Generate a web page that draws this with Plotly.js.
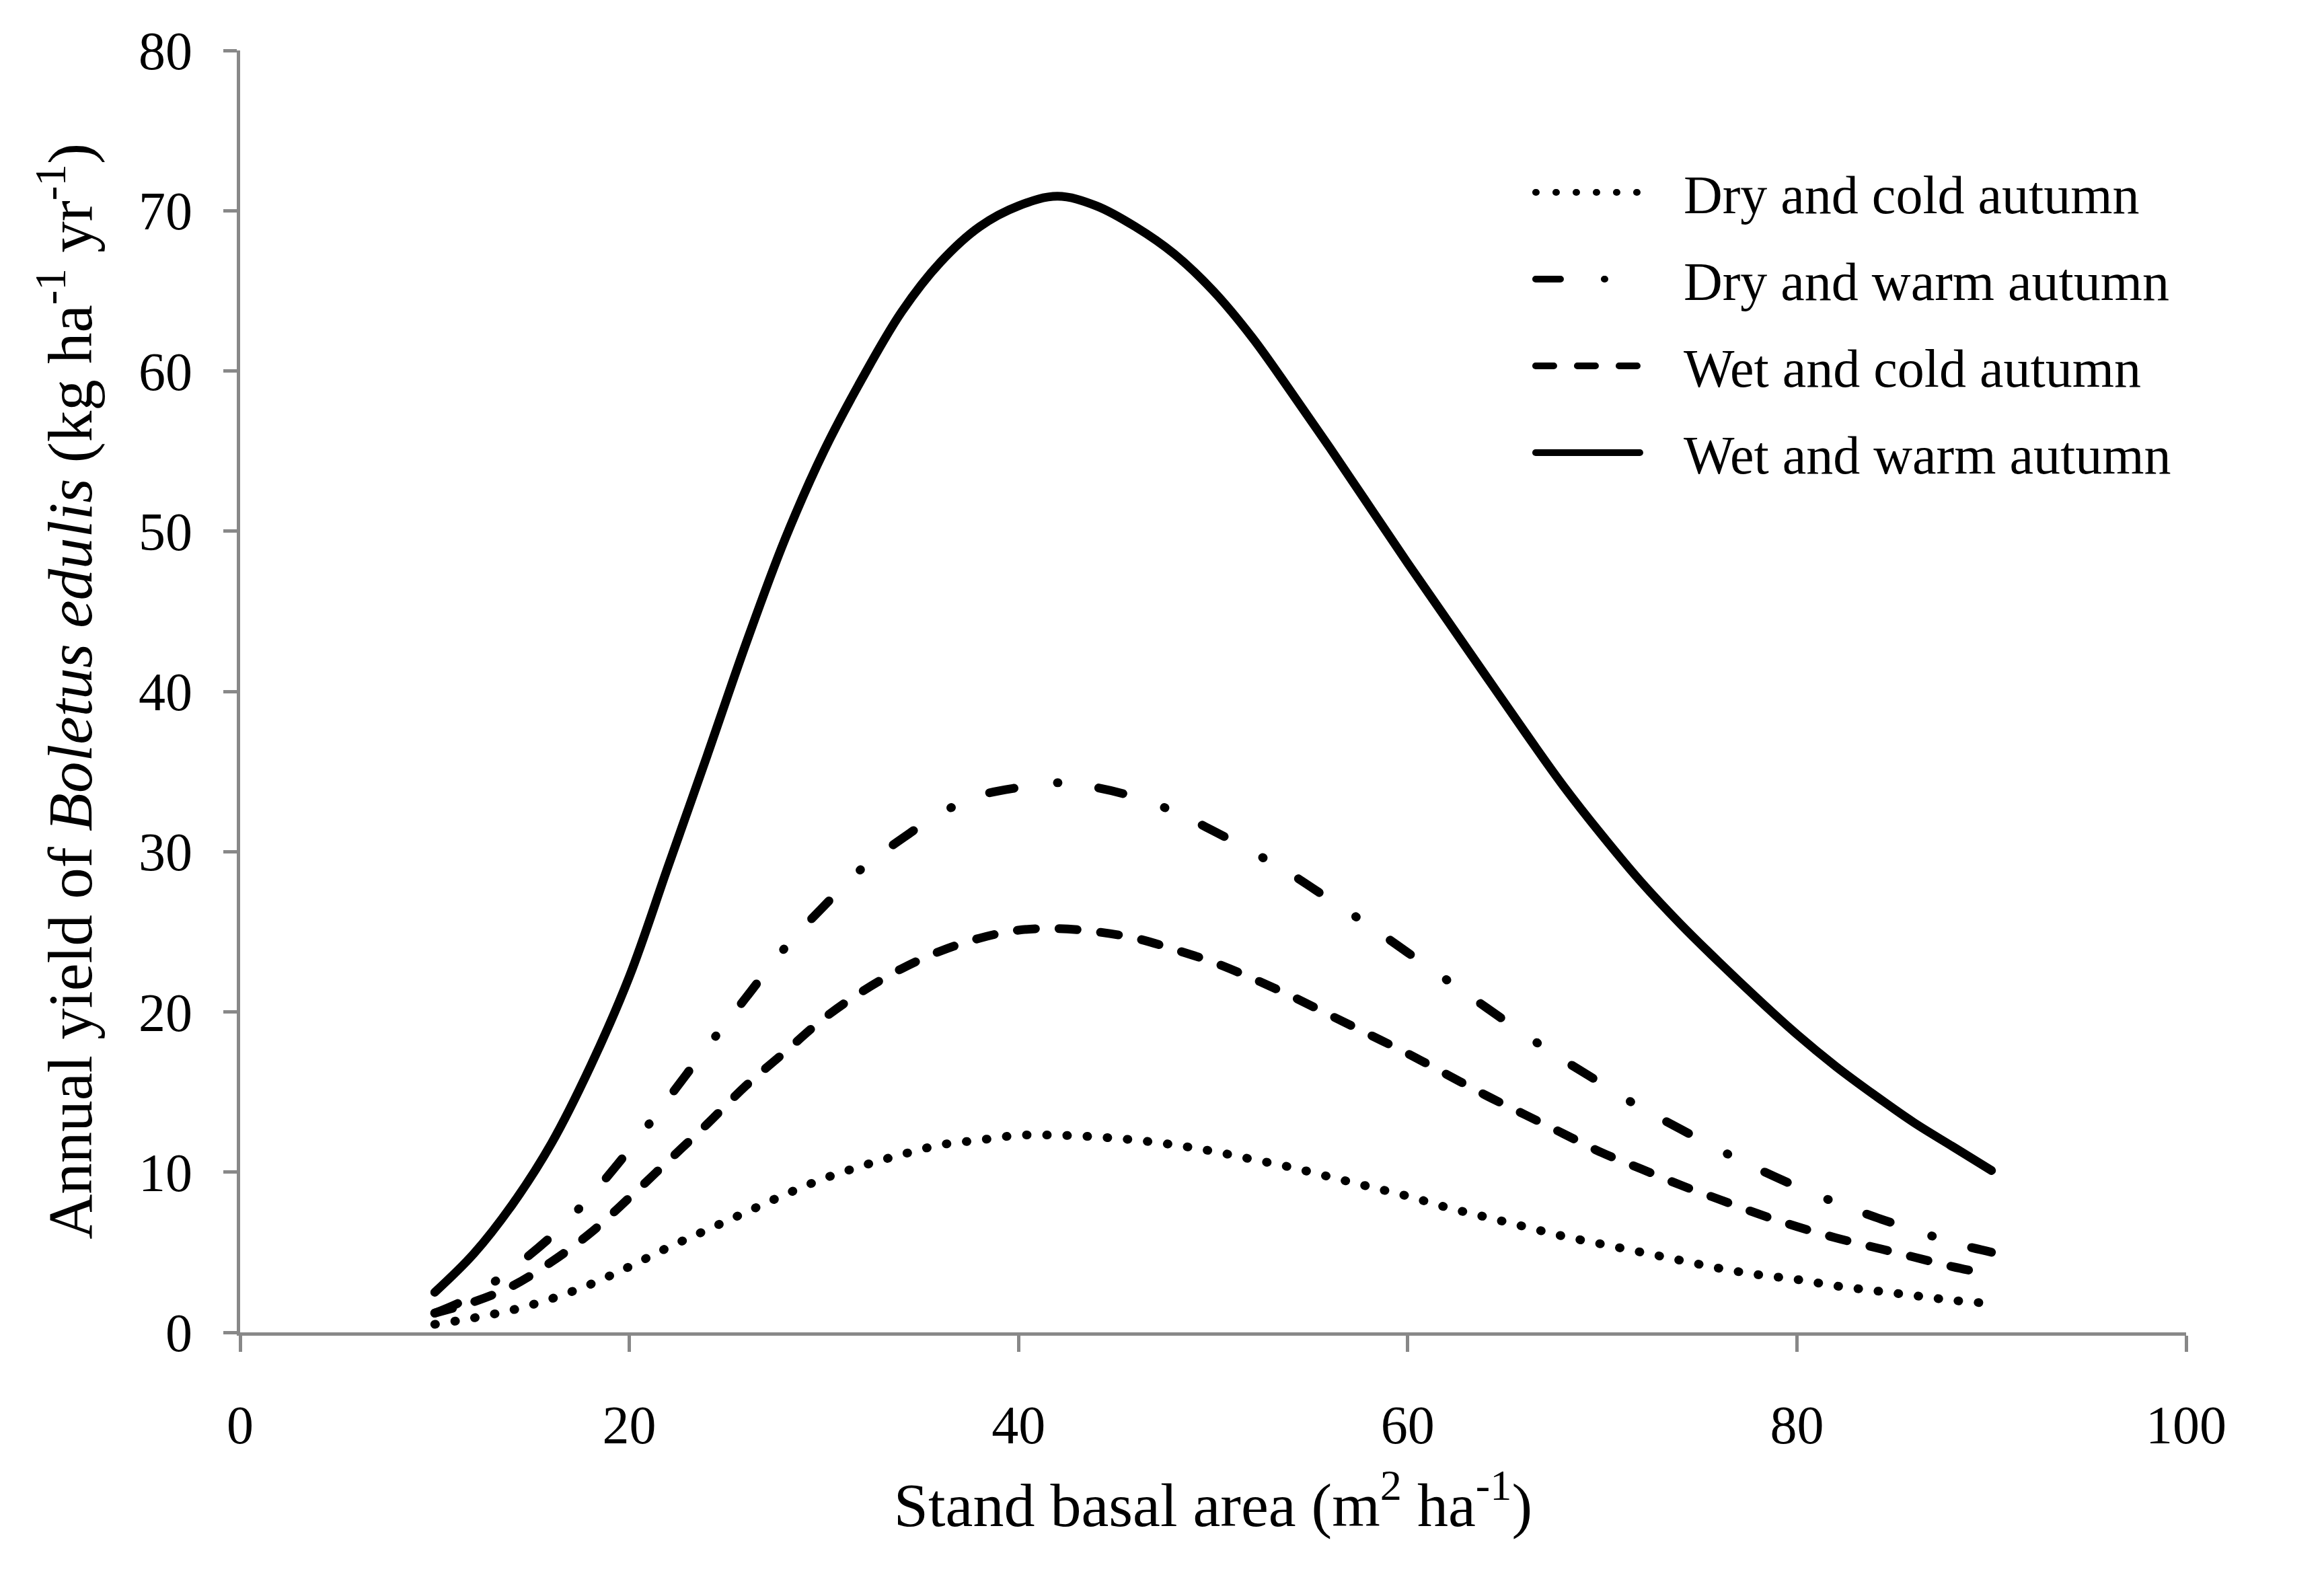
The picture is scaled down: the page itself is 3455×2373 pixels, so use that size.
<!DOCTYPE html>
<html>
<head>
<meta charset="utf-8">
<script src="https://cdn.plot.ly/plotly-3.0.1.min.js"></script>
<style>
  html, body { margin: 0; padding: 0; background: #ffffff; }
  #chart { width: 3455px; height: 2373px; }
  path.js-line { stroke-linecap: round !important; stroke-linejoin: round !important; }
</style>
</head>
<body>
<div id="chart"></div>
<script>
// Stand basal area (m2 ha-1)
const basalArea = [10,12,14,16,18,20,22,24,26,28,30,32,34,36,38,40,42,44,46,48,50,52,54,56,58,60,62,64,66,68,70,72,74,76,78,80,82,84,86,88,90];

// Annual yield of Boletus edulis (kg ha-1 yr-1)
const dryCold  = [0.5,0.9,1.4,2.1,3.0,4.1,5.3,6.4,7.5,8.6,9.6,10.4,11.1,11.7,12.0,12.3,12.3,12.2,12.0,11.7,11.3,10.8,10.3,9.7,9.1,8.5,7.8,7.2,6.6,6.0,5.5,5.0,4.5,4.0,3.6,3.3,2.9,2.6,2.3,2.0,1.8];
const dryWarm  = [1.2,2.3,4.0,6.0,8.5,11.4,14.6,17.8,20.9,24.0,26.6,29.0,30.8,32.4,33.5,34.0,34.3,34.0,33.4,32.5,31.3,30.0,28.6,27.0,25.4,23.7,22.0,20.3,18.6,17.0,15.5,14.0,12.7,11.4,10.2,9.1,8.1,7.2,6.4,5.6,5.0];
const wetCold  = [1.2,1.9,2.9,4.4,6.2,8.4,10.7,13.0,15.4,17.5,19.6,21.3,22.7,23.8,24.6,25.1,25.2,25.0,24.6,23.9,23.1,22.1,21.0,19.8,18.6,17.4,16.1,14.8,13.6,12.4,11.2,10.2,9.2,8.3,7.4,6.6,5.9,5.3,4.7,4.1,3.6];
const wetWarm  = [2.5,4.9,8.0,11.8,16.6,22.2,29.1,36.0,43.0,49.5,55.0,59.6,63.7,66.8,69.0,70.3,70.9,70.3,69.0,67.3,65.0,62.1,58.7,55.2,51.6,48.0,44.5,41.0,37.5,34.1,31.0,28.1,25.5,23.1,20.8,18.6,16.6,14.8,13.1,11.6,10.1];

const seriesNames = ['Dry and cold autumn','Dry and warm autumn','Wet and cold autumn','Wet and warm autumn'];
const xTicks = [0,20,40,60,80,100];
const yTicks = [0,10,20,30,40,50,60,70,80];

const serif = 'Liberation Serif, Times New Roman, serif';
const pad = '\u00a0\u00a0\u00a0';

function mk(name, y, dash, group) {
  return {
    x: basalArea, y: y, name: pad + name, type: 'scatter', mode: 'lines',
    legendgroup: group,
    line: {color: '#000000', width: 13, dash: dash, shape: 'spline', smoothing: 1},
    hoverinfo: 'skip'
  };
}

const data = [
  mk(seriesNames[0], dryCold, '1px,29px', 'g1'),
  mk(seriesNames[1], dryWarm, '37px,65px,1px,61px', 'g2'),
  mk(seriesNames[2], wetCold, '27px,35px', 'g3'),
  mk(seriesNames[3], wetWarm, 'solid', 'g4')
];

const axisCommon = {
  showgrid: false, zeroline: false, showline: true,
  linecolor: '#888888', linewidth: 5,
  ticks: 'outside', tickcolor: '#888888', tickwidth: 5,
  tickfont: {family: serif, size: 80, color: '#000000'},
  fixedrange: true
};

const layout = {
  width: 3455, height: 2373,
  paper_bgcolor: '#ffffff', plot_bgcolor: '#ffffff',
  margin: {l: 357, r: 205, t: 75, b: 392, autoexpand: false},
  showlegend: true,
  legend: {
    x: 0.664, y: 0.92, xanchor: 'left', yanchor: 'top',
    font: {family: serif, size: 80, color: '#000000'},
    itemwidth: 155, tracegroupgap: 22, traceorder: 'grouped',
    bgcolor: 'rgba(0,0,0,0)', borderwidth: 0
  },
  xaxis: Object.assign({}, axisCommon, {
    range: [0, 100], tickmode: 'array', tickvals: xTicks, ticktext: xTicks.map(String),
    ticklen: 24, ticklabelstandoff: 40,
    title: {text: 'Stand basal area (m<sup>2</sup> ha<sup>-1</sup>)', font: {family: serif, size: 92, color: '#000000'}, standoff: 44}
  }),
  yaxis: Object.assign({}, axisCommon, {
    range: [0, 80], tickmode: 'array', tickvals: yTicks, ticktext: yTicks.map(String),
    ticklen: 20, ticklabelstandoff: 30,
    title: {text: 'Annual yield of <i>Boletus edulis</i> (kg ha<sup>-1</sup> yr<sup>-1</sup>)', font: {family: serif, size: 93, color: '#000000'}, standoff: 40}
  })
};

Plotly.newPlot('chart', data, layout, {displayModeBar: false, staticPlot: true});
</script>
</body>
</html>
